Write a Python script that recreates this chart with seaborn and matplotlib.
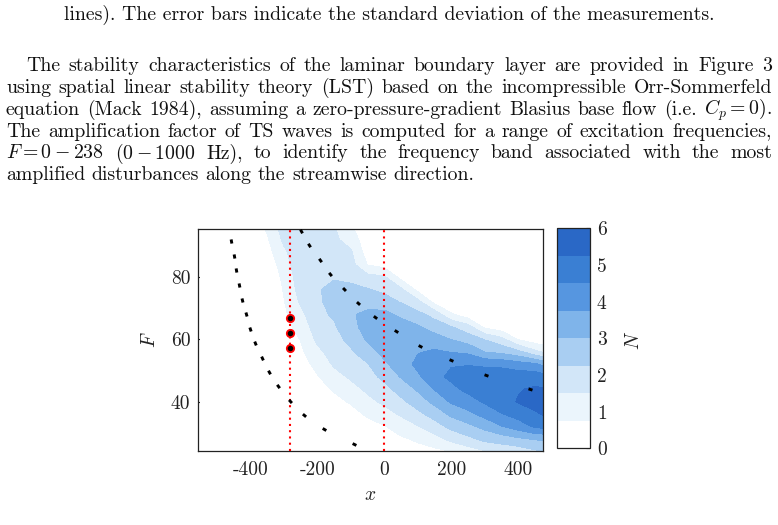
import numpy as np
import matplotlib
matplotlib.use("Agg")
import matplotlib.pyplot as plt
import seaborn as sns

# N-factor map: one list per x station, F = 24 ... 96 bottom to top
x_pos = [-550, -500, -450, -400, -350, -300, -250, -200, -150, -100, -50,
         0, 50, 100, 150, 200, 250, 300, 350, 400, 450, 475]
f_pos = [24, 28, 32, 36, 40, 44, 48, 52, 56, 60, 64, 68, 72, 76, 80, 84, 88, 92, 96]
n_cols = [
    [0] * 19,
    [0] * 19,
    [0] * 19,
    [0] * 17 + [0.1, 0.3],
    [0] * 15 + [0.2, 0.45, 0.65, 0.85],
    [0, 0, 0, 0, 0, 0.05, 0.12, 0.2, 0.3, 0.4, 0.5, 0.6, 0.7, 0.8, 0.95, 1.15, 1.35, 1.65, 1.85],
    [0, 0, 0, 0.03, 0.1, 0.2, 0.3, 0.45, 0.6, 0.77, 1.0, 1.3, 1.6, 1.8, 1.9, 2.0, 2.05, 2.1, 2.1],
    [0, 0, 0.02, 0.12, 0.28, 0.45, 0.7, 0.95, 1.3, 1.65, 1.9, 2.05, 2.15, 2.2, 2.2, 2.15, 2.1, 2.0, 1.9],
    [0, 0.02, 0.15, 0.35, 0.55, 0.82, 1.2, 1.6, 1.85, 2.0, 2.15, 2.35, 2.45, 2.4, 2.2, 2.0, 1.8, 1.65, 1.55],
    [0, 0.05, 0.25, 0.5, 0.82, 1.2, 1.62, 1.9, 2.15, 2.45, 2.75, 2.93, 2.8, 2.45, 2.05, 1.8, 1.6, 1.2, 0.85],
    [0.05, 0.25, 0.5, 0.85, 1.28, 1.65, 1.95, 2.2, 2.7, 3.1, 3.3, 3.15, 2.75, 2.3, 1.75, 0.72, 0.4, 0.25, 0.15],
    [0.2, 0.42, 0.7, 1.2, 1.65, 2.0, 2.45, 2.88, 3.2, 3.45, 3.5, 3.2, 2.62, 2.05, 1.6, 0.45, 0.15, 0.05, 0],
    [0.4, 0.65, 1.05, 1.6, 2.08, 2.55, 3.05, 3.35, 3.6, 3.65, 3.35, 2.85, 2.2, 1.65, 0.5, 0.1, 0, 0, 0],
    [0.5, 0.85, 1.45, 2.05, 2.6, 3.1, 3.6, 3.95, 3.7, 3.4, 3.1, 2.45, 1.75, 0.55, 0.1, 0, 0, 0, 0],
    [0.55, 1.2, 1.9, 2.55, 3.2, 3.78, 4.3, 4.35, 3.85, 3.35, 2.65, 2.0, 0.55, 0.1, 0, 0, 0, 0, 0],
    [0.74, 1.7, 2.45, 3.15, 3.85, 4.3, 4.65, 4.45, 3.72, 2.98, 2.3, 0.85, 0.1, 0, 0, 0, 0, 0, 0],
    [1.1, 2.05, 2.8, 3.55, 4.15, 4.7, 4.95, 4.45, 3.6, 2.65, 1.8, 0.3, 0, 0, 0, 0, 0, 0, 0],
    [1.42, 2.45, 3.2, 4.0, 4.6, 5.0, 5.0, 4.35, 2.98, 2.22, 0.6, 0.05, 0, 0, 0, 0, 0, 0, 0],
    [1.7, 2.6, 3.7, 4.45, 4.95, 5.15, 5.0, 4.3, 2.8, 1.75, 0.25, 0, 0, 0, 0, 0, 0, 0, 0],
    [1.8, 2.85, 4.1, 4.8, 5.3, 5.2, 4.9, 4.1, 2.45, 0.72, 0.05, 0, 0, 0, 0, 0, 0, 0, 0],
    [2.1, 3.05, 4.6, 5.15, 5.5, 5.35, 4.95, 3.9, 1.7, 0.3, 0, 0, 0, 0, 0, 0, 0, 0, 0],
    [2.25, 3.1, 4.7, 5.3, 5.6, 5.3, 4.8, 3.6, 1.4, 0.2, 0, 0, 0, 0, 0, 0, 0, 0, 0],
]

# neutral curves (branch I and branch II), one mark per frequency
branch1_x = [-458, -450, -443, -435, -426, -414, -401, -385, -366, -344, -318, -281, -240, -181, -91]
branch1_f = [91.4, 86.6, 82.1, 77.3, 72.7, 68.1, 63.3, 58.8, 54.1, 49.4, 45.0, 40.2, 35.7, 31.1, 26.3]
branch2_x = [-248, -224, -192, -161, -121, -78, -27, 35, 106, 198, 303, 434]
branch2_f = [94.9, 90.3, 85.5, 81.0, 76.2, 71.7, 67.1, 62.6, 57.9, 53.3, 48.7, 44.1]

# excitation points and reference stations
probe_x = [-280, -280, -280]
probe_f = [66.8, 62.0, 57.2]
station_x = [-280, 0]

n_levels = [0, 0.75, 1.5, 2.25, 3.0, 3.75, 4.5, 5.25, 6.0]
band_colors = ["#FFFFFF", "#EBF5FC", "#D2E6F8", "#A9CEF2", "#7FB4EA",
               "#5696E0", "#3A7FD3", "#2A68C6"]

W, H = 778, 525
LS = 14  # label size in the figure

sns.set_theme(style="ticks")
plt.rcParams["font.family"] = ["cmr10", "DejaVu Serif"]
plt.rcParams["mathtext.fontset"] = "cm"
plt.rcParams["axes.unicode_minus"] = False

fig = plt.figure(figsize=(W / 100, H / 100), dpi=100)
fig.patch.set_facecolor("white")

# ---- page text around the figure ----
renderer = fig.canvas.get_renderer()

head = "lines). The error bars indicate the standard deviation of the measurements."
probe = fig.text(0, 0, head, fontsize=10)
FS = 10 * 652 / probe.get_window_extent(renderer).width
probe.remove()


def put_line(words, y_base, x0, x1, justify=True):
    objs = [fig.text(0, 1 - y_base / H, w, fontsize=FS, color="#111111",
                     va="baseline", ha="left") for w in words]
    widths = [o.get_window_extent(renderer).width for o in objs]
    if justify:
        gap = (x1 - x0 - sum(widths)) / (len(words) - 1)
    else:
        gap = FS * 100 / 72 * 0.333
    x = x0
    for o, w in zip(objs, widths):
        o.set_x(x / W)
        x += w + gap


fig.text(389 / W, 1 - 19.5 / H, head, fontsize=FS, color="#111111",
         ha="center", va="baseline")

para = [
    "The stability characteristics of the laminar boundary layer are provided in Figure 3",
    "using spatial linear stability theory (LST) based on the incompressible Orr-Sommerfeld",
    "equation (Mack 1984), assuming a zero-pressure-gradient Blasius base flow (i.e. $C_p=0$).",
    "The amplification factor of TS waves is computed for a range of excitation frequencies,",
    "$F=0-238$ $(0-1000$ Hz), to identify the frequency band associated with the most",
    "amplified disturbances along the streamwise direction.",
]
baselines = [71.3, 93.1, 114.9, 136.7, 158.5, 180.3]
for i, (line, yb) in enumerate(zip(para, baselines)):
    x_start = 26 if i == 0 else 6
    put_line(line.split(" "), yb, x_start, 772, justify=(i < len(para) - 1))

# ---- contour map ----
ax = fig.add_axes([198 / W, 1 - 451 / H, 345 / W, 222 / H])
n_grid = np.array(n_cols).T
cs = ax.contourf(x_pos, f_pos, n_grid, levels=n_levels, colors=band_colors)

ax.set_xlim(-556, 474)
ax.set_ylim(24.2, 95.4)

for xs in station_x:
    ax.axvline(xs, color="red", lw=1.5, linestyle=(0, (1, 2)), zorder=3)

# neutral-curve marks, drawn as short dashes along the curve
for bx, bf in [(branch1_x, branch1_f), (branch2_x, branch2_f)]:
    pts = ax.transData.transform(np.column_stack([bx, bf]))
    d = np.gradient(pts, axis=0)
    ang = np.degrees(np.arctan2(d[:, 1], d[:, 0]))
    for (px, pf), a in zip(zip(bx, bf), ang):
        ax.plot(px, pf, marker=(2, 0, a - 90), markersize=3.0,
                markeredgewidth=2.1, color="black", zorder=4)

sns.scatterplot(x=probe_x, y=probe_f, ax=ax, color="black", edgecolor="red",
                s=28, linewidth=1.3, zorder=5, legend=False)

ax.set_xticks([-400, -200, 0, 200, 400])
ax.set_yticks([40, 60, 80])
ax.tick_params(direction="in", top=True, right=True, length=4, width=0.8,
               labelsize=LS, colors="#222222", pad=5.5)
ax.tick_params(axis="x", pad=7)
for sp in ax.spines.values():
    sp.set_linewidth(0.9)
    sp.set_color("#222222")
ax.set_xlabel("")
ax.set_ylabel("")
fig.text(150 / W, 1 - 340 / H, "$F$", rotation=90, fontsize=LS,
         ha="center", va="center", color="#222222")
fig.text(370 / W, 1 - 495 / H, "$x$", fontsize=LS,
         ha="center", va="center", color="#222222")

# ---- colour bar ----
cax = fig.add_axes([557 / W, 1 - 448.3 / H, 33 / W, 220 / H])
cbar = fig.colorbar(cs, cax=cax, ticks=range(7))
cbar.outline.set_linewidth(0.9)
cbar.outline.set_edgecolor("#222222")
cax.tick_params(direction="in", length=3, width=0.8, labelsize=LS,
                colors="#222222", pad=5)
fig.text(634 / W, 1 - 340 / H, "$N$", rotation=90, fontsize=LS,
         ha="center", va="center", color="#222222")

fig.savefig("out.png", dpi=100)
